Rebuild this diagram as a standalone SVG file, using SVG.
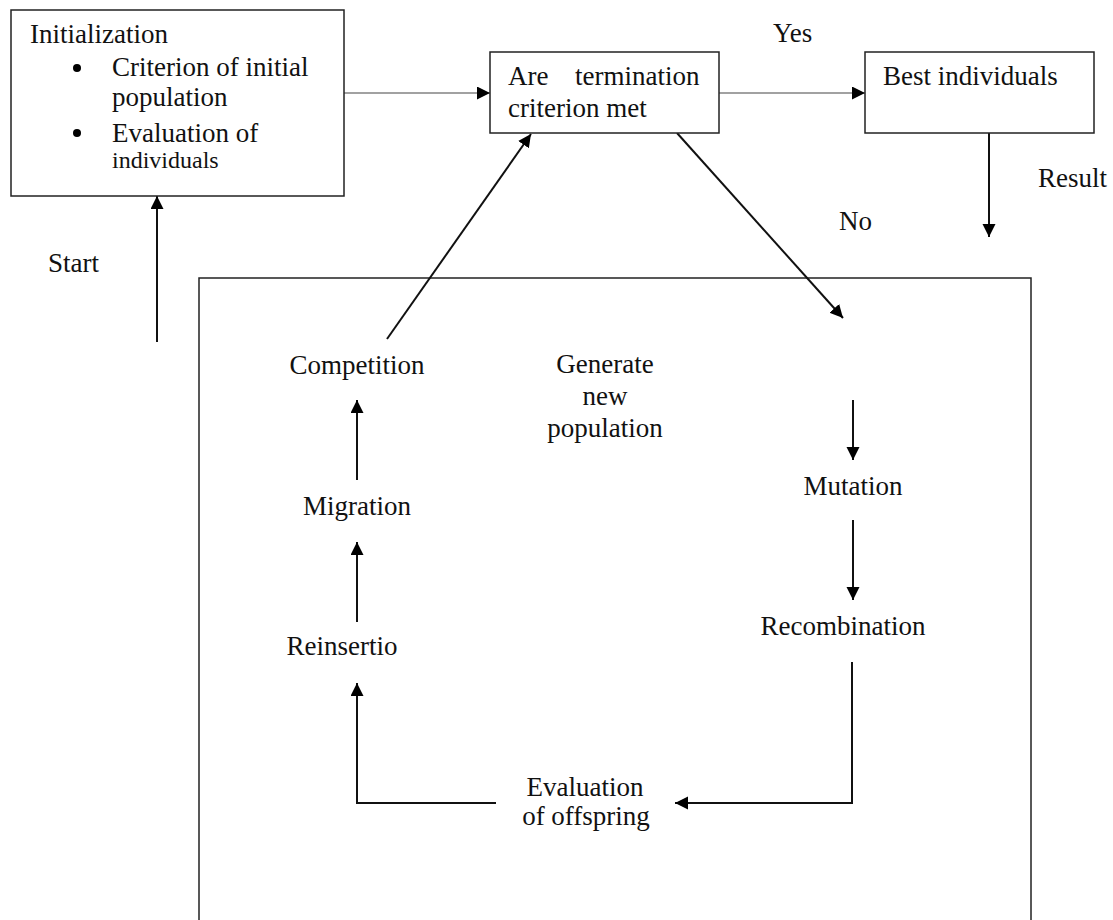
<svg xmlns="http://www.w3.org/2000/svg" width="1113" height="920" viewBox="0 0 1113 920">
<defs>
<style>
text{font-family:"Liberation Serif","Times New Roman",serif;font-size:27px;fill:#111}
.box{fill:#fff;stroke:#222;stroke-width:1.5}
.ln{fill:none;stroke:#111;stroke-width:2}
.thin{fill:none;stroke:#444;stroke-width:1.2}
.mid{text-anchor:middle}
</style>
<marker id="ah" markerUnits="userSpaceOnUse" markerWidth="14" markerHeight="14" refX="13" refY="6.5" orient="auto">
<path d="M0,0 L13,6.5 L0,13 z" fill="#000"/>
</marker>
</defs>
<rect width="1113" height="920" fill="#fff"/>
<g id="frame">
<rect class="box" x="199" y="278" width="832" height="680" fill="none"/>
</g>
<g id="connectors">
<path class="thin" d="M344,93 L490,93" marker-end="url(#ah)"/>
<path class="thin" d="M719,93 L865,93" marker-end="url(#ah)"/>
<path class="ln" d="M989,133 L989,237" marker-end="url(#ah)"/>
<path class="ln" d="M157,342 L157,196" marker-end="url(#ah)"/>
<path class="ln" d="M387,339 L531,134" marker-end="url(#ah)"/>
<path class="ln" d="M677,133 L843,318" marker-end="url(#ah)"/>
<path class="ln" d="M853,400 L853,460" marker-end="url(#ah)"/>
<path class="ln" d="M853,520 L853,600" marker-end="url(#ah)"/>
<path class="ln" d="M852,662 L852,803 L675,803" marker-end="url(#ah)"/>
<path class="ln" d="M496,803 L357,803 L357,683" marker-end="url(#ah)"/>
<path class="ln" d="M357,622 L357,542" marker-end="url(#ah)"/>
<path class="ln" d="M357,480 L357,400" marker-end="url(#ah)"/>
</g>
<g id="init">
<rect class="box" x="11" y="10" width="333" height="186"/>
<text x="30" y="43">Initialization</text>
<circle cx="77" cy="68" r="4" fill="#000"/>
<text x="112" y="76">Criterion of initial</text>
<text x="112" y="106">population</text>
<circle cx="77" cy="133" r="4" fill="#000"/>
<text x="112" y="142">Evaluation of</text>
<text x="112" y="168" style="font-size:24px">individuals</text>
</g>
<g id="termination">
<rect class="box" x="490" y="52" width="229" height="81"/>
<text x="508" y="85">Are</text>
<text x="575" y="85">termination</text>
<text x="508" y="117">criterion met</text>
</g>
<g id="best">
<rect class="box" x="865" y="52" width="229" height="81"/>
<text x="883" y="85">Best individuals</text>
</g>
<g id="labels">
<text x="773" y="42">Yes</text>
<text x="1038" y="187">Result</text>
<text x="839" y="230">No</text>
<text x="48" y="272">Start</text>
</g>
<g id="competition"><text class="mid" x="357" y="374">Competition</text></g>
<g id="generate">
<text class="mid" x="605" y="373">Generate</text>
<text class="mid" x="605" y="405">new</text>
<text class="mid" x="605" y="437">population</text>
</g>
<g id="migration"><text class="mid" x="357" y="515">Migration</text></g>
<g id="reinsertio"><text class="mid" x="342" y="655">Reinsertio</text></g>
<g id="mutation"><text class="mid" x="853" y="495">Mutation</text></g>
<g id="recombination"><text class="mid" x="843" y="635">Recombination</text></g>
<g id="evaluation">
<text class="mid" x="585" y="796">Evaluation</text>
<text class="mid" x="586" y="825">of offspring</text>
</g>
</svg>
